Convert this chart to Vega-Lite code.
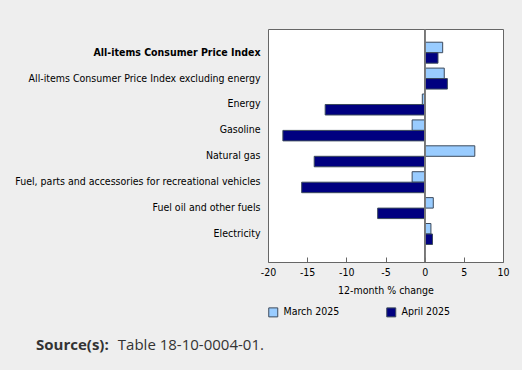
{
  "$schema": "https://vega.github.io/schema/vega-lite/v6.json",
  "width": 235,
  "height": 233,
  "autosize": "none",
  "padding": {"left": 268, "top": 29, "right": 19, "bottom": 108},
  "background": "#eeeeee",
  "title": {
    "text": "Source(s):",
    "subtitle": "\u200b\u00a0\u00a0\u00a0\u00a0\u00a0\u00a0\u00a0\u00a0\u00a0\u00a0\u00a0\u00a0\u00a0\u00a0\u00a0\u00a0\u00a0\u00a0\u00a0\u00a0\u00a0Table 18-10-0004-01.",
    "orient": "bottom",
    "anchor": "start",
    "frame": "group",
    "font": "Open Sans",
    "fontSize": 15,
    "fontWeight": "bold",
    "color": "#333333",
    "subtitleFont": "Open Sans",
    "subtitleFontSize": 15,
    "subtitleFontWeight": "normal",
    "subtitleColor": "#333333",
    "subtitlePadding": -15,
    "dx": -232,
    "offset": 19
  },
  "data": {
    "values": [
      {"category": "All-items Consumer Price Index", "period": "March 2025", "value": 2.3},
      {"category": "All-items Consumer Price Index", "period": "April 2025", "value": 1.7},
      {"category": "All-items Consumer Price Index excluding energy", "period": "March 2025", "value": 2.5},
      {"category": "All-items Consumer Price Index excluding energy", "period": "April 2025", "value": 2.9},
      {"category": "Energy", "period": "March 2025", "value": -0.3},
      {"category": "Energy", "period": "April 2025", "value": -12.7},
      {"category": "Gasoline", "period": "March 2025", "value": -1.6},
      {"category": "Gasoline", "period": "April 2025", "value": -18.1},
      {"category": "Natural gas", "period": "March 2025", "value": 6.4},
      {"category": "Natural gas", "period": "April 2025", "value": -14.1},
      {"category": "Fuel, parts and accessories for recreational vehicles", "period": "March 2025", "value": -1.6},
      {"category": "Fuel, parts and accessories for recreational vehicles", "period": "April 2025", "value": -15.7},
      {"category": "Fuel oil and other fuels", "period": "March 2025", "value": 1.1},
      {"category": "Fuel oil and other fuels", "period": "April 2025", "value": -6.0},
      {"category": "Electricity", "period": "March 2025", "value": 0.8},
      {"category": "Electricity", "period": "April 2025", "value": 1.0}
    ]
  },
  "encoding": {
    "y": {
      "field": "category",
      "type": "nominal",
      "sort": null,
      "title": null,
      "scale": {"paddingInner": 0.19, "paddingOuter": 0.593, "align": 0.43},
      "axis": {
        "domain": false,
        "ticks": false,
        "labelPadding": 8,
        "labelFont": "DejaVu Sans Condensed",
        "labelFontSize": 10.5,
        "labelColor": "#000000",
        "labelLimit": 300,
        "labelFontWeight": {"condition": {"test": "datum.value === 'All-items Consumer Price Index'", "value": "bold"}, "value": "normal"}
      }
    }
  },
  "layer": [
    {
      "mark": {"type": "bar", "stroke": "#3c4a5c", "strokeWidth": 1},
      "encoding": {
        "yOffset": {"field": "period", "type": "nominal", "sort": ["March 2025", "April 2025"], "scale": {"paddingInner": 0, "paddingOuter": 0}},
        "x": {
          "field": "value",
          "type": "quantitative",
          "scale": {"domain": [-20, 10], "nice": false, "zero": false},
          "title": "12-month % change",
          "axis": {
            "values": [-20, -15, -10, -5, 0, 5, 10],
            "labelExpr": "replace(datum.label, '\u2212', '-')",
            "labelFlush": false,
            "labelOverlap": false,
            "labelBound": false,
            "grid": false,
            "domain": false,
            "tickSize": -5,
            "tickColor": "#666666",
            "labelPadding": 10,
            "labelFont": "DejaVu Sans Condensed",
            "labelFontSize": 10.5,
            "labelColor": "#000000",
            "titleFont": "DejaVu Sans Condensed",
            "titleFontSize": 10.5,
            "titleFontWeight": "normal",
            "titleColor": "#000000",
            "titlePadding": 8
          }
        },
        "color": {
          "field": "period",
          "type": "nominal",
          "scale": {"domain": ["March 2025", "April 2025"], "range": ["#99ccff", "#000080"]},
          "legend": {
            "title": null,
            "orient": "none",
            "legendX": 0,
            "legendY": 278,
            "direction": "horizontal",
            "symbolType": "square",
            "symbolSize": 81,
            "symbolStrokeColor": "#3c4a5c",
            "symbolStrokeWidth": 1,
            "symbolOpacity": 1,
            "labelFont": "DejaVu Sans Condensed",
            "labelFontSize": 10.5,
            "labelColor": "#000000",
            "labelOffset": 5,
            "columnPadding": 44
          }
        }
      }
    },
    {
      "mark": {"type": "rule", "color": "#777777", "strokeWidth": 1},
      "encoding": {
        "x": {
          "datum": 0,
          "type": "quantitative",
          "title": "12-month % change",
          "axis": {
            "values": [-20, -15, -10, -5, 0, 5, 10],
            "labelExpr": "replace(datum.label, '\u2212', '-')",
            "labelFlush": false,
            "labelOverlap": false,
            "labelBound": false,
            "grid": false,
            "domain": false,
            "tickSize": -5,
            "tickColor": "#666666",
            "labelPadding": 10,
            "labelFont": "DejaVu Sans Condensed",
            "labelFontSize": 10.5,
            "labelColor": "#000000",
            "titleFont": "DejaVu Sans Condensed",
            "titleFontSize": 10.5,
            "titleFontWeight": "normal",
            "titleColor": "#000000",
            "titlePadding": 8
          }
        },
        "y": null
      }
    }
  ],
  "config": {"view": {"fill": "white", "stroke": "#666666"}}
}
